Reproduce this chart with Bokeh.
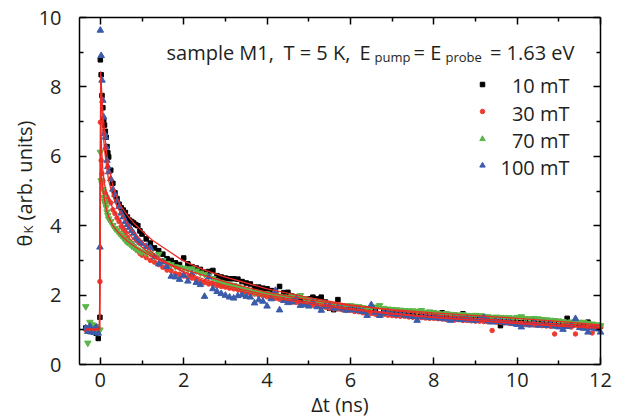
import math
from bokeh.plotting import figure
from bokeh.models import Label, LinearAxis, FixedTicker, Range1d, ColumnDataSource
from bokeh.embed import file_html
from bokeh.resources import INLINE

FONT = "Open Sans"
TXT = "#231f20"

# ---------------- data ----------------
T = [-0.35, -0.30, -0.25, -0.20, -0.15, -0.10, -0.05, -0.01,
     0.00, 0.02, 0.04, 0.06, 0.08, 0.10, 0.12, 0.14, 0.16, 0.18, 0.20,
     0.25, 0.30, 0.35, 0.40, 0.45, 0.50, 0.55, 0.60, 0.65, 0.70, 0.75, 0.80, 0.85, 0.90, 0.95, 1.00,
     1.1, 1.2, 1.3, 1.4, 1.5, 1.6, 1.7, 1.8, 1.9, 2.0,
     2.1, 2.2, 2.3, 2.4, 2.5, 2.6, 2.7, 2.8, 2.9, 3.0,
     3.1, 3.2, 3.3, 3.4, 3.5, 3.6, 3.7, 3.8, 3.9, 4.0,
     4.1, 4.2, 4.3, 4.4, 4.5, 4.6, 4.7, 4.8, 4.9, 5.0,
     5.1, 5.2, 5.3, 5.4, 5.5, 5.6, 5.7, 5.8, 5.9, 6.0,
     6.1, 6.2, 6.3, 6.4, 6.5, 6.6, 6.7, 6.8, 6.9, 7.0,
     7.1, 7.2, 7.3, 7.4, 7.5, 7.6, 7.7, 7.8, 7.9, 8.0,
     8.1, 8.2, 8.3, 8.4, 8.5, 8.6, 8.7, 8.8, 8.9, 9.0,
     9.1, 9.2, 9.3, 9.4, 9.5, 9.6, 9.7, 9.8, 9.9, 10.0,
     10.1, 10.2, 10.3, 10.4, 10.5, 10.6, 10.7, 10.8, 10.9, 11.0,
     11.1, 11.2, 11.3, 11.4, 11.5, 11.6, 11.7, 11.8, 11.9, 12.0]

B10 = [1.05, 0.98, 0.95, 1.10, 1.02, 0.90, 0.75, 1.36,
       8.78, 8.35, 7.75, 7.40, 7.05, 6.90, 6.72, 6.55, 6.28, 6.10, 5.98,
       5.60, 5.22, 4.95, 4.78, 4.62, 4.52, 4.45, 4.38, 4.25, 4.16, 4.12, 4.08, 4.03, 4.00, 3.85, 3.76,
       3.62, 3.50, 3.36, 3.28, 3.18, 3.05, 3.00, 2.93, 2.88, 3.07,
       2.90, 2.82, 2.78, 2.74, 2.66, 2.68, 2.71, 2.56, 2.52, 2.49,
       2.47, 2.47, 2.46, 2.39, 2.35, 2.32, 2.23, 2.23, 2.20, 2.18,
       2.13, 2.10, 2.25, 2.07, 2.08, 1.97, 1.95, 1.89, 1.88, 1.89,
       1.94, 1.89, 1.94, 1.80, 1.62, 1.58, 1.87, 1.68, 1.65, 1.62,
       1.65, 1.58, 1.55, 1.60, 1.54, 1.57, 1.42, 1.52, 1.51, 1.49,
       1.46, 1.50, 1.44, 1.43, 1.47, 1.43, 1.41, 1.45, 1.42, 1.40,
       1.44, 1.49, 1.40, 1.38, 1.42, 1.39, 1.46, 1.37, 1.35, 1.38,
       1.36, 1.33, 1.30, 1.28, 1.25, 1.12, 1.27, 1.22, 1.24, 1.22,
       1.20, 1.25, 1.19, 1.22, 1.21, 1.18, 1.20, 1.16, 1.19, 1.17,
       1.21, 1.33, 1.15, 1.18, 1.14, 1.16, 1.22, 1.13, 1.12, 1.10]

R30 = [1.00, 1.05, 0.98, 1.02, 1.00, 0.97, 1.03, 2.39,
       6.98, 5.88, 5.50, 5.30, 5.05, 4.97, 4.92, 4.86, 4.82, 4.76, 4.72,
       4.66, 4.46, 4.35, 4.22, 4.12, 3.98, 3.88, 3.78, 3.66, 3.56, 3.50, 3.42, 3.33, 3.28, 3.20, 3.15,
       3.08, 3.00, 2.95, 2.88, 2.80, 2.72, 2.70, 2.62, 2.60, 2.55,
       2.51, 2.49, 2.44, 2.38, 2.36, 2.32, 2.31, 2.27, 2.25, 2.23,
       2.20, 2.18, 2.16, 2.11, 2.08, 2.05, 2.03, 2.00, 1.98, 1.95,
       1.93, 1.91, 1.88, 1.85, 1.84, 1.80, 1.79, 1.76, 1.74, 1.73,
       1.71, 1.70, 1.66, 1.65, 1.62, 1.60, 1.60, 1.58, 1.56, 1.56,
       1.53, 1.52, 1.49, 1.47, 1.47, 1.45, 1.44, 1.44, 1.42, 1.41,
       1.40, 1.39, 1.39, 1.37, 1.36, 1.36, 1.35, 1.34, 1.33, 1.33,
       1.32, 1.31, 1.30, 1.30, 1.28, 1.29, 1.27, 1.27, 1.26, 1.25,
       1.25, 1.24, 1.23, 0.98, 1.22, 1.22, 1.20, 1.19, 1.18, 1.17,
       1.17, 1.15, 1.14, 1.14, 1.13, 1.12, 1.11, 1.10, 0.88, 1.10,
       1.09, 1.10, 1.08, 0.88, 1.07, 1.06, 1.07, 0.91, 1.05, 1.08]

G70 = [1.67, 0.62, 1.22, 1.15, 1.00, 1.10, 0.95, 1.00,
       6.12, 5.30, 5.21, 5.05, 4.82, 4.70, 4.62, 4.53, 4.40, 4.30, 4.20,
       4.12, 4.01, 3.92, 3.86, 3.78, 3.72, 3.65, 3.57, 3.52, 3.48, 3.42, 3.38, 3.33, 3.30, 3.26, 3.24,
       3.22, 3.20, 3.12, 3.18, 3.00, 2.92, 2.88, 2.82, 2.80, 2.78,
       2.74, 2.76, 2.70, 2.64, 2.60, 2.55, 2.48, 2.40, 2.36, 2.33,
       2.30, 2.28, 2.24, 2.19, 2.14, 2.10, 2.08, 2.07, 2.05, 2.04,
       2.01, 1.99, 1.97, 1.95, 1.94, 1.96, 1.95, 1.99, 1.90, 1.86,
       1.84, 1.80, 1.79, 1.76, 1.74, 1.73, 1.72, 1.70, 1.69, 1.70,
       1.68, 1.67, 1.64, 1.60, 1.63, 1.66, 1.70, 1.62, 1.60, 1.59,
       1.58, 1.57, 1.56, 1.55, 1.55, 1.53, 1.56, 1.51, 1.52, 1.50,
       1.48, 1.46, 1.47, 1.45, 1.44, 1.43, 1.44, 1.42, 1.41, 1.42,
       1.41, 1.39, 1.38, 1.36, 1.37, 1.36, 1.35, 1.35, 1.34, 1.36,
       1.38, 1.33, 1.32, 1.33, 1.32, 1.30, 1.29, 1.28, 1.27, 1.26,
       1.24, 1.22, 1.23, 1.21, 1.22, 1.22, 1.19, 1.17, 1.15, 1.12]

B100 = [1.05, 0.95, 1.10, 1.00, 0.92, 1.08, 0.90, 3.38,
        9.63, 8.90, 8.19, 7.61, 7.13, 6.65, 6.55, 6.26, 5.88, 5.70, 5.55,
        5.35, 5.05, 4.90, 4.72, 4.55, 4.36, 4.25, 4.12, 4.03, 3.95, 3.86, 3.78, 3.66, 3.58, 3.52, 3.48,
        3.40, 3.36, 3.10, 2.90, 2.95, 2.82, 2.54, 2.52, 2.45, 2.57,
        2.40, 2.61, 2.36, 2.30, 1.96, 2.52, 2.18, 2.10, 2.04, 1.99,
        1.94, 1.91, 1.98, 2.01, 1.96, 1.94, 1.77, 1.86, 1.82, 1.68,
        1.89, 2.13, 1.57, 1.84, 1.78, 1.80, 1.89, 1.70, 1.72, 1.68,
        1.80, 1.66, 1.56, 1.68, 1.70, 1.62, 1.65, 1.60, 1.56, 1.58,
        1.57, 1.55, 1.52, 1.41, 1.72, 1.50, 1.41, 1.48, 1.51, 1.47,
        1.44, 1.46, 1.42, 1.40, 1.38, 1.27, 1.39, 1.37, 1.35, 1.36,
        1.34, 1.33, 1.31, 1.27, 1.32, 1.30, 1.29, 1.32, 1.28, 1.27,
        1.30, 1.36, 1.25, 1.22, 1.24, 1.23, 1.20, 1.21, 1.18, 1.15,
        1.08, 1.17, 1.14, 1.22, 1.13, 1.15, 1.12, 1.17, 1.10, 1.08,
        1.01, 1.09, 1.12, 1.32, 1.06, 1.04, 0.93, 1.05, 1.02, 0.93]

# fitted curves
FT = [-0.35, -0.02, 0.01, 0.03, 0.06, 0.10, 0.15, 0.20, 0.30, 0.40, 0.50, 0.65, 0.80, 1.00,
      1.25, 1.50, 2.0, 2.5, 3.0, 4.0, 5.0, 6.0, 7.0, 8.0, 9.0, 10.0, 11.0, 12.0]
FIT10 = [1.02, 1.02, 8.45, 7.90, 7.30, 6.70, 6.10, 5.70, 5.15, 4.80, 4.55, 4.30, 4.08, 3.85,
         3.58, 3.38, 2.98, 2.72, 2.52, 2.18, 1.93, 1.72, 1.56, 1.43, 1.33, 1.24, 1.17, 1.11]
FIT30 = [1.00, 1.00, 7.00, 6.20, 5.60, 5.20, 4.95, 4.78, 4.50, 4.28, 4.08, 3.82, 3.60, 3.38,
         3.15, 2.97, 2.68, 2.45, 2.27, 2.00, 1.80, 1.62, 1.48, 1.37, 1.27, 1.19, 1.12, 1.06]
FIT70 = [1.02, 1.02, 6.10, 5.40, 5.05, 4.75, 4.45, 4.25, 4.00, 3.85, 3.72, 3.55, 3.42, 3.27,
         3.10, 2.96, 2.74, 2.56, 2.38, 2.08, 1.86, 1.70, 1.58, 1.49, 1.41, 1.33, 1.24, 1.14]
FIT100 = [1.00, 1.00, 8.30, 7.50, 6.80, 6.20, 5.70, 5.30, 4.85, 4.55, 4.35, 4.05, 3.82, 3.55,
          3.22, 3.00, 2.65, 2.40, 2.22, 1.95, 1.75, 1.58, 1.45, 1.35, 1.27, 1.18, 1.11, 1.04]

SERIES = ["10 mT", "30 mT", "70 mT", "100 mT"]
X_LIM = (-0.5, 12)
Y_LIM = (0, 10)
X_TICKS = [0, 2, 4, 6, 8, 10, 12]
X_MINOR = [1, 3, 5, 7, 9, 11]
Y_TICKS = [0, 2, 4, 6, 8, 10]
Y_MINOR = [1, 3, 5, 7, 9]

# ---------------- geometry: the plot box inside a 626x418 canvas ----------------
W, H = 626, 418
BOX_L, BOX_R, BOX_T, BOX_B = 79.0, 600.0, 17.0, 364.0
KX = (BOX_R - BOX_L) / (X_LIM[1] - X_LIM[0])
KY = (BOX_B - BOX_T) / (Y_LIM[1] - Y_LIM[0])
x_start = X_LIM[0] - BOX_L / KX
x_end = X_LIM[1] + (W - BOX_R) / KX
y_start = Y_LIM[0] - (H - BOX_B) / KY
y_end = Y_LIM[1] + BOX_T / KY

p = figure(width=W, height=H, output_backend="svg", toolbar_location=None,
           x_range=Range1d(x_start, x_end), y_range=Range1d(y_start, y_end),
           min_border=0, min_border_left=0, min_border_right=0,
           min_border_top=0, min_border_bottom=0)
p.grid.visible = False
p.outline_line_color = None
p.background_fill_color = "white"
p.border_fill_color = "white"


def style_axis(ax, ticks, minor, bounds, loc, labels=True):
    ax.ticker = FixedTicker(ticks=ticks, minor_ticks=minor)
    ax.bounds = bounds
    ax.fixed_location = loc
    ax.axis_line_color = "black"
    ax.axis_line_width = 1.5
    ax.major_tick_in = 7
    ax.major_tick_out = 0
    ax.minor_tick_in = 4
    ax.minor_tick_out = 0
    ax.major_tick_line_color = "black"
    ax.major_tick_line_width = 1.5
    ax.minor_tick_line_color = "black"
    ax.minor_tick_line_width = 1.5
    ax.major_label_text_font = FONT
    if labels:
        ax.major_label_text_font_size = "20px"
        ax.major_label_text_color = TXT
    else:
        ax.major_label_text_font_size = "1px"
        ax.major_label_text_color = None
        ax.major_label_standoff = 0


xa = p.xaxis[0]
style_axis(xa, X_TICKS, X_MINOR, X_LIM, Y_LIM[0])
xa.major_label_standoff = 8

ya = p.yaxis[0]
style_axis(ya, Y_TICKS, Y_MINOR, Y_LIM, X_LIM[0])
ya.major_label_standoff = 18

top = LinearAxis()
style_axis(top, X_TICKS, X_MINOR, X_LIM, Y_LIM[1], labels=False)
p.add_layout(top, "above")
right = LinearAxis()
style_axis(right, Y_TICKS, Y_MINOR, Y_LIM, X_LIM[1], labels=False)
p.add_layout(right, "right")

# ---------------- data marks ----------------
C_BLACK = "#000000"
C_RED = "#ee3b2f"
C_GREEN = "#5cb547"
C_BLUE = "#3b5bab"
C_FIT = "#ee2a24"

src = ColumnDataSource(dict(t=T, b10=B10, r30=R30, g70=G70, b100=B100))
p.scatter("t", "b10", source=src, marker="square", size=4.5, color=C_BLACK)
p.scatter("t", "r30", source=src, marker="circle", size=4.5, color=C_RED)
p.scatter("t", "g70", source=src, marker="inverted_triangle", size=6.5, color=C_GREEN)
p.scatter("t", "b100", source=src, marker="triangle", size=6.5, color=C_BLUE)

fsrc = ColumnDataSource(dict(t=FT, f10=FIT10, f30=FIT30, f70=FIT70, f100=FIT100))
for col in ["f10", "f30", "f70", "f100"]:
    p.line("t", col, source=fsrc, line_color=C_FIT, line_width=1.3)


# ---------------- text helpers (canvas pixel -> data coords) ----------------
def X(px):
    return X_LIM[0] + (px - BOX_L) / KX


def Y(py):
    return Y_LIM[0] + (BOX_B - py) / KY


def lab(text, px, py, size, align="left", baseline="alphabetic", angle=0.0):
    p.add_layout(Label(x=X(px), y=Y(py), text=text, text_font=FONT,
                       text_font_size=f"{size}px", text_align=align,
                       text_baseline=baseline, angle=angle, text_color=TXT))


# title line with subscripts
lab("sample M1,", 166, 51.5, 20)
lab("T = 5 K,", 283, 51.5, 20)
lab("E", 359, 51.5, 20)
lab("pump", 374, 56, 13)
lab("= E", 413, 51.5, 20)
lab("probe", 445, 56, 13)
lab("= 1.63 eV", 574, 51.5, 20, align="right")

# legend
LEG_MARK_Y = [84, 111, 138.5, 165]
LEG_TEXT_Y = [84.5, 112.5, 140, 167]
p.scatter([X(482)], [Y(LEG_MARK_Y[0])], marker="square", size=4.5, color=C_BLACK)
p.scatter([X(482)], [Y(LEG_MARK_Y[1])], marker="circle", size=4.5, color=C_RED)
p.scatter([X(482)], [Y(LEG_MARK_Y[2])], marker="triangle", size=5.5, color=C_GREEN)
p.scatter([X(482)], [Y(LEG_MARK_Y[3])], marker="triangle", size=5.5, color=C_BLUE)
for name, yy in zip(SERIES, LEG_TEXT_Y):
    lab(name, 569, yy, 20, align="right")

# axis titles
lab("Δt (ns)", (BOX_L + BOX_R) / 2, 403.5, 20, align="center")
up = math.pi / 2
lab("θ", 23.5, 246, 20, angle=up)
lab("K", 27.5, 233, 13, angle=up)
lab("(arb. units)", 23.5, 220, 20, angle=up)

open("out.html", "w").write(file_html(p, INLINE))
